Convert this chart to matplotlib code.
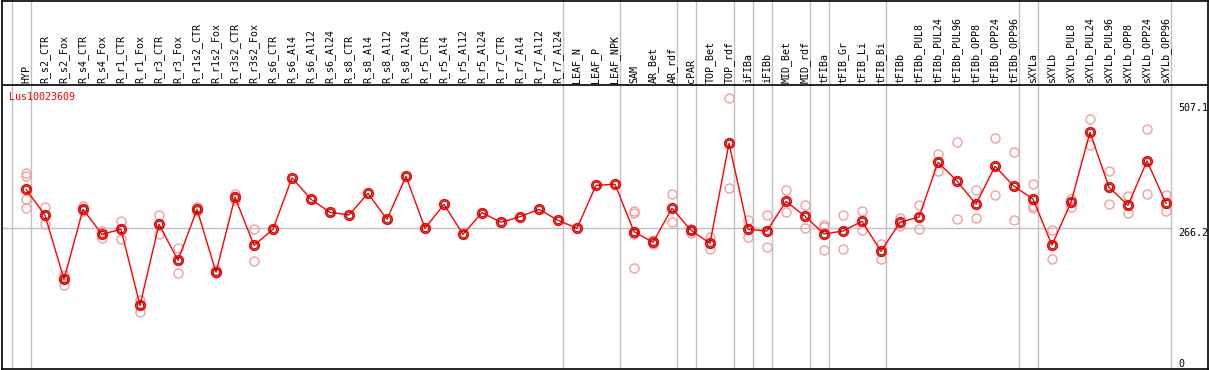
import matplotlib
matplotlib.use("Agg")
import matplotlib.pyplot as plt

# sample names (x axis, top header)
samples = [
    "HYP", "R_s2_CTR", "R_s2_Fox", "R_s4_CTR", "R_s4_Fox", "R_r1_CTR",
    "R_r1_Fox", "R_r3_CTR", "R_r3_Fox", "R_r1s2_CTR", "R_r1s2_Fox",
    "R_r3s2_CTR", "R_r3s2_Fox", "R_s6_CTR", "R_s6_Al4", "R_s6_Al12",
    "R_s6_Al24", "R_s8_CTR", "R_s8_Al4", "R_s8_Al12", "R_s8_Al24",
    "R_r5_CTR", "R_r5_Al4", "R_r5_Al12", "R_r5_Al24", "R_r7_CTR",
    "R_r7_Al4", "R_r7_Al12", "R_r7_Al24", "LEAF_N", "LEAF_P", "LEAF_NPK",
    "SAM", "AR_Bet", "AR_rdf", "cPAR", "TOP_Bet", "TOP_rdf", "iFIBa",
    "iFIBb", "MID_Bet", "MID_rdf", "tFIBa", "tFIB_Gr", "tFIB_Li", "tFIB_Bi",
    "tFIBb", "tFIBb_PUL8", "tFIBb_PUL24", "tFIBb_PUL96", "tFIBb_OPP8",
    "tFIBb_OPP24", "tFIBb_OPP96", "sXYLa", "sXYLb", "sXYLb_PUL8",
    "sXYLb_PUL24", "sXYLb_PUL96", "sXYLb_OPP8", "sXYLb_OPP24", "sXYLb_OPP96",
]

# mean expression per sample
means = [
    340.6, 290.7, 167.7, 302.2, 254.2, 263.8, 117.8, 273.4, 204.2, 302.2,
    181.2, 325.3, 233.0, 263.8, 362.9, 321.4, 296.4, 291.3, 332.9, 283.0,
    365.6, 265.7, 311.8, 254.2, 295.7, 277.2, 288.0, 302.2, 281.1, 265.7,
    348.3, 350.2, 259.2, 238.8, 304.1, 261.9, 236.9, 429.0, 263.8, 260.5,
    317.6, 288.8, 254.8, 260.5, 279.2, 221.5, 277.2, 287.4, 392.5, 356.6,
    311.8, 384.8, 346.4, 322.0, 233.6, 315.6, 450.1, 344.5, 309.9, 395.0,
    313.7,
]

# individual replicates per sample (empty = single measurement)
replicates = [
    [371.4, 366.8, 322.0, 304.1], [306.0, 273.4], [175.4, 170.2, 157.3],
    [308.5, 299.5], [261.1, 247.1], [279.7, 245.7], [128.0, 105.5],
    [291.3, 254.2], [227.3, 180.4], [307.2, 299.5], [185.6, 179.2],
    [331.6, 320.1], [263.8, 202.3],
    [], [], [], [], [], [], [], [], [], [], [], [], [], [], [], [], [], [], [],
    [299.5, 294.5, 254.8, 188.9], [243.2, 235.0], [331.0, 278.4],
    [264.9, 257.2], [249.6, 225.4], [515.5, 342.5], [281.6, 248.4],
    [291.3, 229.2], [338.7, 296.4], [309.9, 265.7],
    [272.6, 267.6, 223.4], [291.8, 225.9], [298.9, 261.9], [235.5, 206.1],
    [286.1, 270.7], [309.9, 264.4], [407.9, 375.2], [430.9, 283.0],
    [338.7, 285.5], [438.6, 329.1], [411.7, 281.1],
    [350.2, 309.1, 305.3], [261.9, 206.1], [322.6, 307.2], [475.1, 425.2],
    [375.8, 311.8], [327.2, 294.5], [455.9, 331.0], [329.7, 298.9],
]

# last sample index of each tissue group
group_ends = [-1, 0, 28, 31, 34, 35, 37, 38, 39, 41, 42, 45, 52, 53, 60]

gene = "Lus10023609"
y_max = 507.1
y_ref = 266.2

# pixel layout of the eFP style panel
W, H = 1209, 370
x0_px, dx_px = 26.0, 19.0          # first sample, spacing
y0_px, px_per_unit = 366.6, 0.5205  # value 0 row, scale


def to_x(px):
    return (px - x0_px) / dx_px


def to_y(py):
    return (y0_px - py) / px_per_unit


fig = plt.figure(figsize=(W / 100, H / 100), dpi=100)
left_px, right_px, top_px, bot_px = 1.5, 1207.5, 0.5, 368.5
ax = fig.add_axes([left_px / W, (H - bot_px) / H,
                   (right_px - left_px) / W, (bot_px - top_px) / H])
ax.set_xlim(to_x(left_px), to_x(right_px))
ax.set_ylim(to_y(bot_px), to_y(top_px))
ax.set_xticks([])
ax.set_yticks([])
for s in ax.spines.values():
    s.set_color("black")
    s.set_linewidth(1.2)

mono = "DejaVu Sans Mono"
fs = 7.2

# group separators and reference line
for g in group_ends:
    ax.axvline(g + 0.25, color="#c0c0c0", lw=1.0, zorder=1)
ax.hlines(y_ref, to_x(left_px), group_ends[-1] + 0.25,
          color="#c0c0c0", lw=1.0, zorder=1)

# header separator and labels
ax.axhline(to_y(84.5), color="black", lw=1.2, zorder=2)
for i, name in enumerate(samples):
    ax.text(i, to_y(83), name, rotation=90, ha="center", va="bottom",
            family=mono, fontsize=fs, color="black")

ax.text(to_x(9), to_y(97), gene, color="red", family=mono, fontsize=fs,
        ha="left", va="center")

# right value labels
xl = to_x(1178)
ax.text(xl, y_max, "507.1", family=mono, fontsize=fs, ha="left", va="top")
ax.text(xl, y_ref, "266.2", family=mono, fontsize=fs, ha="left", va="top")
ax.text(xl, 0, "0", family=mono, fontsize=fs, ha="left", va="baseline")

# replicates
for i, reps in enumerate(replicates):
    if reps:
        ax.plot([i] * len(reps), reps, linestyle="none", marker="o",
                markersize=6.5, markerfacecolor="none",
                markeredgecolor="#f0a0a0", markeredgewidth=1.0, zorder=3)

# mean line with markers
xs = list(range(len(samples)))
ax.plot(xs, means, color="red", lw=1.0, zorder=4)
ax.plot(xs, means, linestyle="none", marker="o", markersize=6.8,
        markerfacecolor="none", markeredgecolor="red",
        markeredgewidth=1.3, zorder=5)
ax.plot(xs, means, linestyle="none", marker="o", markersize=4.6,
        markerfacecolor="none", markeredgecolor="#600000",
        markeredgewidth=0.6, zorder=6)

fig.savefig("out.png", dpi=100)
